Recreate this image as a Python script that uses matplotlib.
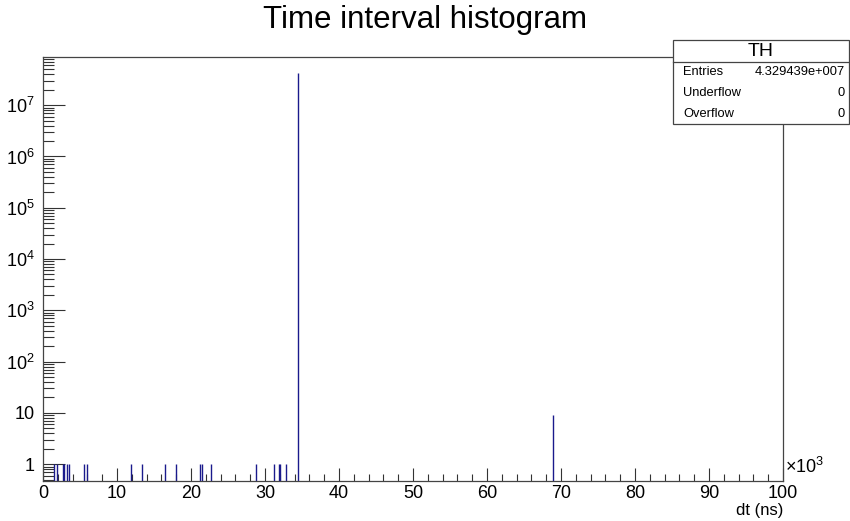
# -*- coding: utf-8 -*-
'''
Time interval histogram (ROOT style) redrawn with matplotlib.
'''

import numpy as np
import matplotlib
matplotlib.use('Agg')
import matplotlib.pyplot as plt
from matplotlib.ticker import FixedLocator, FuncFormatter

plt.rcParams['font.family'] = ['Liberation Sans', 'DejaVu Sans']
plt.rcParams['mathtext.fontset'] = 'custom'
plt.rcParams['mathtext.rm'] = 'Liberation Sans'
plt.rcParams['mathtext.it'] = 'Liberation Sans:italic'

# Bin centres (ns) of the filled bins and their contents.
bin_centres_ns = [1450, 1850, 2650, 2850, 3250, 3550, 5550, 5900,
                  11800, 13300, 16500, 17900, 21200, 21400, 22600,
                  28700, 31100, 31800, 32000, 32800,
                  34400, 68900]
bin_counts = [1, 1, 1, 1, 1, 1, 1, 1,
              1, 1, 1, 1, 1, 1, 1,
              1, 1, 1, 1, 1,
              43294349, 9]

n_bins = 1000
x_range_ns = (0, 100000)

y_decades = [1, 10, 100, 1e3, 1e4, 1e5, 1e6, 1e7]

stats_title = 'TH'
stats_rows = [('Entries', '4.329439e+007'),
              ('Underflow', '0'),
              ('Overflow', '0')]


def main():
    edges = np.linspace(x_range_ns[0], x_range_ns[1], n_bins + 1)
    counts, _ = np.histogram(bin_centres_ns, bins=edges, weights=bin_counts)

    fig = plt.figure(figsize=(8.5, 5.21), dpi=100)
    ax = fig.add_axes([43 / 850, 40 / 521, 740 / 850, 424 / 521])

    nz = counts > 0
    ctrs = 0.5 * (edges[:-1] + edges[1:])
    ax.vlines(ctrs[nz], 1e-3, counts[nz], color='#1a1a8c', lw=1.0)

    ax.set_yscale('log')
    ax.set_xlim(*x_range_ns)
    ax.set_ylim(0.47, 8.7e7)

    ax.xaxis.set_major_locator(FixedLocator(np.arange(0, 100001, 10000)))
    ax.xaxis.set_minor_locator(FixedLocator(np.arange(0, 100001, 2000)))
    ax.xaxis.set_major_formatter(FuncFormatter(lambda v, p: f'{v / 1000:g}'))

    minors = [d * s for d in [0.1] + y_decades for s in range(2, 10)]
    ax.yaxis.set_major_locator(FixedLocator(y_decades))
    ax.yaxis.set_minor_locator(FixedLocator(minors))

    def ylab(v, p):
        e = int(round(np.log10(v)))
        if e == 0:
            return '1'
        if e == 1:
            return '10'
        return r'$\mathregular{10^{%d}}$' % e

    ax.yaxis.set_major_formatter(FuncFormatter(ylab))

    ax.tick_params(axis='both', which='both', direction='in',
                   color='#333333', width=0.8, labelsize=13,
                   top=False, right=False)
    ax.tick_params(axis='y', which='major', length=15.8, pad=6)
    ax.tick_params(axis='y', which='minor', length=7.9)
    ax.tick_params(axis='x', which='major', length=9.4, pad=3)
    ax.tick_params(axis='x', which='minor', length=4.7)

    for sp in ax.spines.values():
        sp.set_color('#444444')
        sp.set_linewidth(0.9)

    fig.text(0.5, 1 - 20 / 521, 'Time interval histogram',
             ha='center', va='center', fontsize=22.5)

    ax.text(1.003, 0.01, r'$\mathregular{\times 10^{3}}$',
            transform=ax.transAxes, ha='left', va='bottom', fontsize=13)
    ax.text(1.0, -29 / 424, 'dt (ns)', transform=ax.transAxes,
            ha='right', va='center', fontsize=12)

    # stats box
    bx0, bx1 = 673 / 850, 849 / 850
    by_top, by_head, by_bot = 1 - 40 / 521, 1 - 62 / 521, 1 - 124 / 521
    box = plt.Rectangle((bx0, by_bot), bx1 - bx0, by_top - by_bot,
                        transform=fig.transFigure, facecolor='white',
                        edgecolor='#444444', lw=0.9, zorder=5)
    fig.add_artist(box)
    fig.add_artist(plt.Line2D([bx0, bx1], [by_head, by_head],
                              transform=fig.transFigure, color='#444444',
                              lw=0.9, zorder=6))
    fig.text((bx0 + bx1) / 2, (by_top + by_head) / 2, stats_title,
             ha='center', va='center', fontsize=14, zorder=7)
    row_h = (by_head - by_bot) / len(stats_rows)
    for i, (lab, val) in enumerate(stats_rows):
        yy = by_head - (i + 0.5) * row_h
        fig.text(683 / 850, yy, lab, ha='left', va='center',
                 fontsize=9.3, zorder=7)
        fig.text(845 / 850, yy, val, ha='right', va='center',
                 fontsize=9.3, zorder=7)

    fig.savefig('out.png', dpi=100)
    plt.close(fig)
    return


if __name__ == '__main__':
    main()
